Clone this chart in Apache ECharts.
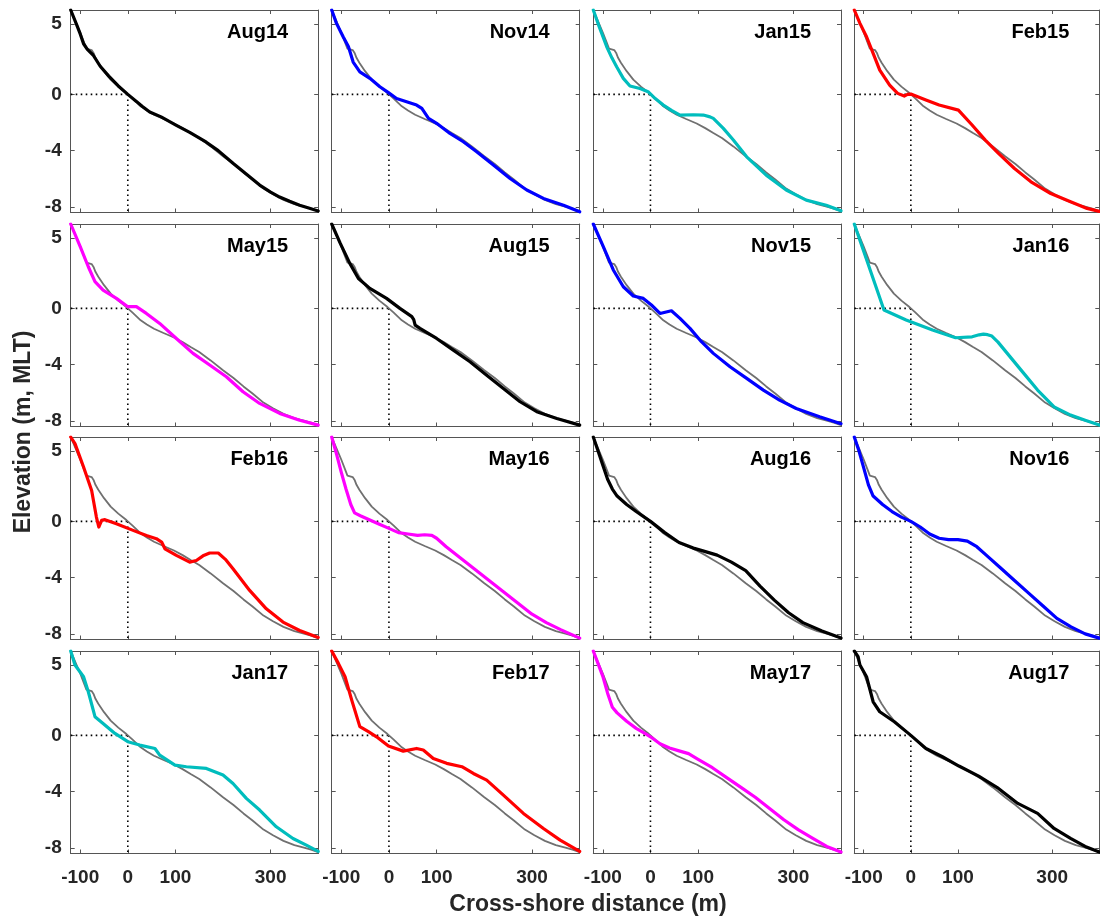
<!DOCTYPE html>
<html>
<head>
<meta charset="utf-8">
<script src="https://cdn.jsdelivr.net/npm/echarts@6/dist/echarts.min.js"></script>
<style>
  html, body { margin: 0; padding: 0; background: #ffffff; }
  #chart { width: 1100px; height: 920px; }
</style>
</head>
<body>
<div id="chart"></div>
<script>
// Survey names and line colours, panel order left-to-right, top-to-bottom
const surveyLabels = ['Aug14', 'Nov14', 'Jan15', 'Feb15',
                      'May15', 'Aug15', 'Nov15', 'Jan16',
                      'Feb16', 'May16', 'Aug16', 'Nov16',
                      'Jan17', 'Feb17', 'May17', 'Aug17'];
const surveyColors = ['#000000', '#0000ff', '#00bdbd', '#ff0000',
                      '#ff00ff', '#000000', '#0000ff', '#00bdbd',
                      '#ff0000', '#ff00ff', '#000000', '#0000ff',
                      '#00bdbd', '#ff0000', '#ff00ff', '#000000'];

// Axis ticks (m)
const xTicks = [-100, 0, 100, 300];
const yTicks = [5, 0, -4, -8];
const xRange = [-120, 400];
const yRange = [-8.4, 6];

// Reference profile (grey) drawn in every panel: [cross-shore distance, elevation]
const baseline = [[-120,6.0],[-110,5.2],[-100,4.4],[-92,3.7],[-87,3.25],[-83,3.15],[-76,3.15],[-72,2.95],
  [-68,2.6],[-62,2.25],[-50,1.65],[-36,1.05],[-20,0.55],[-5,0.15],[0,0],[10,-0.3],[27,-0.85],[40,-1.15],
  [55,-1.45],[75,-1.75],[97,-2.07],[115,-2.4],[132,-2.75],[150,-3.1],[174,-3.7],[200,-4.4],[222,-4.95],
  [243,-5.55],[262,-6.05],[285,-6.7],[305,-7.1],[327,-7.5],[350,-7.8],[370,-7.98],[385,-8.12],[400,-8.3]];

// Surveyed profiles
const aug14 = [[-120,6],[-108,5.0],[-100,4.3],[-93,3.6],[-85,3.2],[-73,2.8],[-58,2.0],[-40,1.3],[-20,0.6],
  [0,0.0],[18,-0.5],[30,-0.85],[46,-1.25],[70,-1.6],[102,-2.2],[130,-2.7],[165,-3.4],[190,-4.0],[221,-4.9],
  [250,-5.7],[277,-6.45],[300,-6.95],[319,-7.3],[340,-7.6],[361,-7.88],[380,-8.08],[400,-8.3]];
const nov14 = [[-120,6],[-110,5.05],[-96,4.1],[-85,3.4],[-75,2.3],[-61,1.6],[-40,1.14],[-19,0.54],[-1,0.12],
  [16,-0.29],[37,-0.52],[58,-0.76],[69,-1.0],[83,-1.7],[100,-2.06],[128,-2.78],[156,-3.37],[184,-4.08],
  [219,-5.03],[254,-5.98],[289,-6.8],[324,-7.4],[366,-7.88],[400,-8.35]];
const jan15 = [[-120,6],[-108,4.85],[-92,3.4],[-81,2.6],[-71,1.97],[-57,1.14],[-43,0.6],[-22,0.42],[-5,0.19],
  [10,-0.3],[27,-0.76],[45,-1.15],[62,-1.47],[90,-1.45],[111,-1.47],[125,-1.6],[132,-1.71],[153,-2.42],
  [174,-3.25],[202,-4.44],[243,-5.74],[285,-6.8],[327,-7.52],[369,-7.88],[400,-8.28]];
const feb15 = [[-120,6],[-108,5.05],[-94,4.1],[-80,2.92],[-66,1.73],[-45,0.66],[-28,0.07],[-14,-0.12],[-7,0.0],
  [0,0.02],[32,-0.4],[60,-0.76],[101,-1.12],[130,-2.18],[158,-3.25],[186,-4.2],[220,-5.27],[255,-6.22],
  [297,-7.05],[339,-7.64],[374,-8.11],[400,-8.32]];
const may15 = [[-120,6],[-100,4.39],[-83,2.96],[-69,1.9],[-52,1.3],[-24,0.71],[0,0.12],[18,0.12],[39,-0.36],
  [67,-1.07],[102,-2.14],[137,-3.2],[172,-4.03],[207,-4.86],[242,-5.93],[277,-6.76],[319,-7.47],[361,-7.95],
  [400,-8.3]];
const aug15 = [[-120,6],[-102,4.62],[-82,3.2],[-64,2.13],[-40,1.42],[-5,0.71],[23,0.0],[48,-0.59],[52,-0.8],
  [55,-1.19],[65,-1.42],[100,-2.14],[135,-2.97],[170,-3.8],[205,-4.75],[240,-5.69],[275,-6.64],[310,-7.35],
  [352,-7.83],[400,-8.3]];
const nov15 = [[-120,6],[-99,4.39],[-78,2.73],[-57,1.54],[-36,0.88],[-15,0.71],[2,0.24],[20,-0.36],[44,-0.17],
  [62,-0.71],[83,-1.42],[107,-2.37],[132,-3.2],[167,-4.15],[202,-4.98],[237,-5.81],[271,-6.52],[306,-7.12],
  [355,-7.71],[400,-8.2]];
const jan16 = [[-120,6],[-57,-0.12],[-10,-0.83],[46,-1.54],[95,-2.09],[130,-2.02],[145,-1.88],[154,-1.83],
  [163,-1.87],[172,-1.97],[185,-2.4],[199,-2.97],[234,-4.39],[269,-5.81],[304,-7.0],[339,-7.59],[370,-7.95],
  [400,-8.3]];
const feb16 = [[-120,6],[-111,5.53],[-93,3.87],[-76,2.2],[-66,0.31],[-61,-0.4],[-55,0.07],[-48,0.12],[-24,-0.17],
  [11,-0.64],[39,-1.0],[60,-1.23],[71,-1.47],[78,-1.95],[102,-2.42],[130,-2.9],[144,-2.78],[158,-2.45],
  [172,-2.25],[190,-2.25],[205,-2.7],[221,-3.37],[256,-4.91],[291,-6.22],[326,-7.16],[361,-7.76],[400,-8.25]];
const may16 = [[-120,6],[-110,4.8],[-100,3.5],[-90,2.3],[-80,1.2],[-72,0.6],[-60,0.4],[-40,0.1],[-20,-0.2],
  [0,-0.5],[20,-0.8],[40,-0.9],[60,-1.0],[75,-0.95],[90,-1.0],[100,-1.2],[120,-1.8],[150,-2.6],[180,-3.4],
  [210,-4.2],[240,-5.0],[270,-5.8],[300,-6.6],[330,-7.2],[360,-7.7],[400,-8.3]];
const aug16 = [[-120,6],[-110,5.0],[-100,4.0],[-90,3.0],[-80,2.3],[-70,1.8],[-50,1.2],[-30,0.7],[0,0],
  [30,-0.8],[60,-1.5],[90,-1.9],[110,-2.1],[140,-2.4],[170,-2.9],[200,-3.5],[230,-4.6],[260,-5.6],
  [290,-6.5],[320,-7.2],[360,-7.8],[400,-8.3]];
const nov16 = [[-120,6],[-110,5.0],[-100,3.8],[-90,2.6],[-80,1.8],[-60,1.2],[-40,0.7],[-20,0.3],[0,0],
  [20,-0.4],[40,-0.9],[60,-1.2],[80,-1.3],[100,-1.3],[120,-1.4],[140,-1.8],[160,-2.4],[190,-3.3],
  [220,-4.2],[250,-5.1],[280,-6.0],[310,-6.9],[340,-7.5],[370,-8.0],[400,-8.3]];
const jan17 = [[-120,6],[-111,5.0],[-93,4.17],[-83,3.1],[-69,1.33],[-52,0.85],[-27,0.14],[0,-0.45],[25,-0.69],
  [57,-0.93],[67,-1.4],[99,-2.11],[123,-2.23],[165,-2.35],[200,-2.82],[221,-3.42],[249,-4.48],[277,-5.31],
  [312,-6.5],[347,-7.33],[375,-7.8],[400,-8.25]];
const feb17 = [[-120,6],[-106,5.12],[-92,4.17],[-78,2.51],[-61,0.62],[-43,0.26],[-26,-0.1],[-1,-0.76],[30,-1.12],
  [58,-0.93],[72,-1.04],[93,-1.64],[121,-1.99],[153,-2.23],[177,-2.71],[205,-3.18],[240,-4.25],[282,-5.55],
  [324,-6.62],[359,-7.45],[400,-8.25]];
const may17 = [[-120,6],[-110,5.1],[-100,4.2],[-90,3.0],[-80,2.0],[-70,1.6],[-50,1.0],[-30,0.5],[-10,0.1],
  [0,-0.1],[20,-0.6],[40,-0.9],[60,-1.1],[80,-1.3],[100,-1.7],[130,-2.3],[160,-3.0],[190,-3.7],[220,-4.4],
  [250,-5.2],[280,-6.0],[310,-6.7],[340,-7.3],[370,-7.9],[400,-8.3]];
const aug17 = [[-120,6],[-112,5.6],[-108,5.0],[-94,4.17],[-80,2.39],[-66,1.68],[-35,0.97],[0,0.0],[32,-0.93],
  [67,-1.52],[102,-2.18],[144,-2.9],[186,-3.77],[227,-4.84],[269,-5.55],[304,-6.62],[339,-7.33],[370,-7.9],
  [400,-8.3]];

const profiles = [aug14, nov14, jan15, feb15, may15, aug15, nov15, jan16,
                  feb16, may16, aug16, nov16, jan17, feb17, may17, aug17];

// Panel geometry (px)
const colLeft = [70.7, 331.7, 593.3, 854.3];
const rowTop = [10, 224, 437, 651];
const panelW = [247.5, 248, 247.7, 245];
const panelH = 202.5;

const fontFamily = '"Liberation Sans", Arial, Helvetica, sans-serif';
const boxColor = '#555555';
const labelColor = '#262626';
const refColor = '#707070';

const grids = [], xAxes = [], yAxes = [], series = [], titles = [];

profiles.forEach((prof, k) => {
  const row = Math.floor(k / 4), col = k % 4;
  const left = colLeft[col], top = rowTop[row], w = panelW[col];
  grids.push({ left: left, top: top, width: w, height: panelH, containLabel: false });

  const tick = (vals) => ({ show: true, inside: true, length: 4, customValues: vals,
                            lineStyle: { color: boxColor, width: 1 } });
  const line = { show: true, onZero: false, lineStyle: { color: boxColor, width: 1 } };
  const lbl = (show, vals, margin) => ({ show: show, customValues: vals, margin: margin,
    fontSize: 19, fontWeight: 'bold', color: labelColor, fontFamily: fontFamily });

  ['bottom', 'top'].forEach(pos => {
    xAxes.push({ type: 'value', gridIndex: k, position: pos, min: xRange[0], max: xRange[1],
      axisLine: line, axisTick: tick(xTicks),
      axisLabel: lbl(pos === 'bottom' && row === 3, xTicks, 15),
      splitLine: { show: false } });
  });
  ['left', 'right'].forEach(pos => {
    yAxes.push({ type: 'value', gridIndex: k, position: pos, min: yRange[0], max: yRange[1],
      axisLine: line, axisTick: tick(yTicks),
      axisLabel: lbl(pos === 'left' && col === 0, yTicks, 9),
      splitLine: { show: false } });
  });

  const ax = 2 * k;
  // dotted guides: mean low tide level and shoreline position
  const dotted = { color: '#000', width: 1.6, type: [1.6, 3.4] };
  series.push({ type: 'line', xAxisIndex: ax, yAxisIndex: ax, data: [[xRange[0], 0], [0, 0]],
    showSymbol: false, silent: true, z: 1, lineStyle: dotted });
  series.push({ type: 'line', xAxisIndex: ax, yAxisIndex: ax, data: [[0, 0], [0, yRange[0]]],
    showSymbol: false, silent: true, z: 1, lineStyle: dotted });
  // reference profile
  series.push({ type: 'line', xAxisIndex: ax, yAxisIndex: ax, data: baseline,
    showSymbol: false, silent: true, z: 2,
    lineStyle: { color: refColor, width: 1.8 } });
  // survey profile
  series.push({ type: 'line', xAxisIndex: ax, yAxisIndex: ax, data: prof,
    showSymbol: false, silent: true, z: 3,
    lineStyle: { color: surveyColors[k], width: 3.2, join: 'round', cap: 'round' } });

  titles.push({ text: surveyLabels[k], right: 1100 - (left + w - 30), top: top + 12, padding: 0,
    textStyle: { fontSize: 20, fontWeight: 'bold', color: '#000', fontFamily: fontFamily } });
});

const chart = echarts.init(document.getElementById('chart'), null, { renderer: 'canvas' });
chart.setOption({
  animation: false,
  backgroundColor: '#ffffff',
  title: titles,
  grid: grids,
  xAxis: xAxes,
  yAxis: yAxes,
  series: series,
  graphic: [
    { type: 'text', x: 24, y: 432, rotation: Math.PI / 2,
      style: { text: 'Elevation (m, MLT)', font: 'bold 23px ' + fontFamily, fill: labelColor,
               textAlign: 'center', textVerticalAlign: 'middle' } },
    { type: 'text', x: 588, y: 905,
      style: { text: 'Cross-shore distance (m)', font: 'bold 23px ' + fontFamily, fill: labelColor,
               textAlign: 'center', textVerticalAlign: 'middle' } }
  ]
});
</script>
</body>
</html>
